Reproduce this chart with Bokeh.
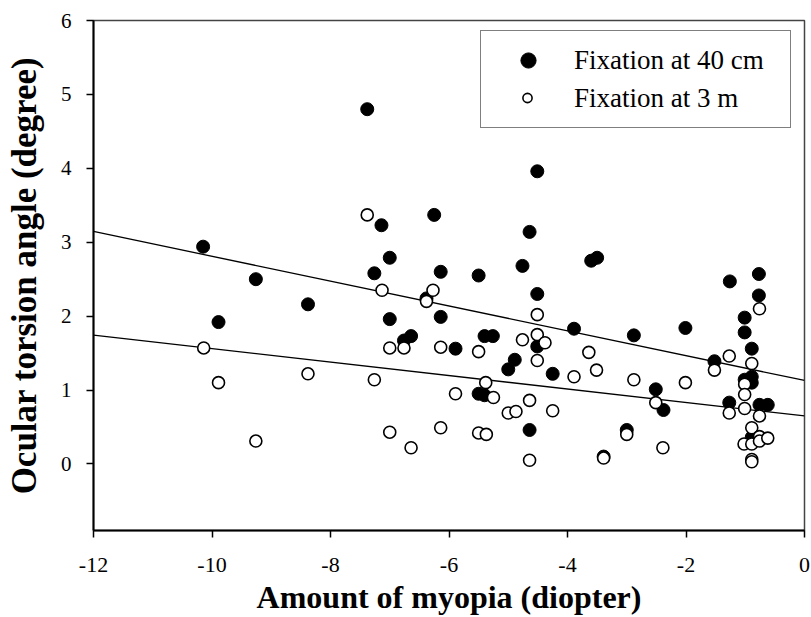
from bokeh.plotting import figure
from bokeh.models import FixedTicker, Legend, LegendItem, Range1d
from bokeh.embed import file_html
from bokeh.resources import INLINE

# Fixation at 40 cm (filled)
near_x = [-10.15, -9.89, -9.26, -8.38, -7.38, -7.14, -7.26, -7.00, -7.00, -6.64,
          -6.76, -6.38, -6.25, -6.14, -6.14, -5.89, -5.50, -5.50, -5.40, -5.40,
          -5.26, -5.00, -4.89, -4.76, -4.64, -4.64, -4.51, -4.51, -4.51, -4.25,
          -3.89, -3.60, -3.50, -3.39, -3.00, -2.88, -2.51, -2.38, -2.01, -1.52,
          -1.26, -1.27, -1.01, -1.01, -1.01, -0.89, -0.89, -0.89, -0.89, -0.77,
          -0.77, -0.76, -0.62]
near_y = [2.94, 1.92, 2.50, 2.16, 4.80, 3.23, 2.58, 2.79, 1.96, 1.73,
          1.67, 2.24, 3.37, 2.60, 1.99, 1.56, 2.55, 0.95, 0.93, 1.73,
          1.73, 1.28, 1.41, 2.68, 3.14, 0.46, 3.96, 2.30, 1.59, 1.22,
          1.83, 2.75, 2.79, 0.10, 0.46, 1.74, 1.01, 0.73, 1.84, 1.39,
          2.47, 0.83, 1.98, 1.78, 1.14, 1.56, 1.18, 1.10, 0.36, 2.57,
          2.28, 0.80, 0.80]

# Fixation at 3 m (open)
far_x = [-10.14, -9.89, -9.26, -8.38, -7.38, -7.13, -7.26, -7.00, -7.00, -6.76,
         -6.64, -6.38, -6.27, -6.14, -6.14, -5.89, -5.50, -5.38, -5.25, -5.50,
         -5.37, -5.00, -4.87, -4.64, -4.64, -4.76, -4.51, -4.51, -4.38, -4.51,
         -4.25, -3.89, -3.64, -3.51, -3.39, -3.00, -2.88, -2.51, -2.39, -2.01,
         -1.52, -1.27, -1.27, -0.89, -1.01, -1.01, -1.01, -0.76, -0.89, -1.02,
         -0.89, -0.76, -0.76, -0.62, -0.89, -0.89, -0.76]
far_y = [1.57, 1.10, 0.31, 1.22, 3.37, 2.35, 1.14, 1.57, 0.43, 1.57,
         0.22, 2.20, 2.35, 1.58, 0.49, 0.95, 1.52, 1.10, 0.90, 0.42,
         0.40, 0.69, 0.71, 0.86, 0.05, 1.68, 2.02, 1.75, 1.64, 1.40,
         0.72, 1.18, 1.51, 1.27, 0.08, 0.40, 1.14, 0.83, 0.22, 1.10,
         1.27, 1.46, 0.69, 1.36, 1.08, 0.94, 0.75, 0.65, 0.49, 0.27,
         0.27, 0.37, 0.31, 0.35, 0.06, 0.03, 2.10]

# regression lines: (intercept, slope)
near_fit = (1.13, -0.168)
far_fit = (0.65, -0.091)

x_ticks = [-12, -10, -8, -6, -4, -2, 0]
y_ticks = [0, 1, 2, 3, 4, 5, 6]
x_limits = (-12, 0)
y_limits = (-0.9, 6)

FONT = "Liberation Serif"
TICK_FONT = "Times New Roman"

p = figure(width=811, height=617, output_backend="svg", toolbar_location=None,
           x_range=Range1d(*x_limits), y_range=Range1d(*y_limits),
           min_border_left=93, min_border_right=7, min_border_top=20,
           min_border_bottom=85)
p.xgrid.visible = False
p.ygrid.visible = False
p.outline_line_color = "#444444"
p.outline_line_width = 1.5

line_x = list(x_limits)
p.line(line_x, [near_fit[0] + near_fit[1] * v for v in line_x],
       line_color="black", line_width=1.3)
p.line(line_x, [far_fit[0] + far_fit[1] * v for v in line_x],
       line_color="black", line_width=1.3)

r_near = p.scatter(near_x, near_y, marker="circle", size=13,
                   fill_color="black", line_color="black", line_width=1)
r_far = p.scatter(far_x, far_y, marker="circle", size=12,
                  fill_color="white", line_color="black", line_width=1.6)
# empty placeholder so the second legend row shows only its label
r_blank = p.scatter([], [], marker="circle", size=1, fill_alpha=0, line_alpha=0)

for ax, ticks in ((p.xaxis[0], x_ticks), (p.yaxis[0], y_ticks)):
    ax.ticker = FixedTicker(ticks=ticks)
    ax.major_label_overrides = {t: str(t) for t in ticks}
    ax.minor_tick_line_color = None
    ax.major_tick_in = 0
    ax.major_tick_out = 7
    ax.major_tick_line_width = 1.5
    ax.axis_line_width = 2
    ax.axis_line_color = "black"
    ax.major_label_text_font = TICK_FONT
    ax.major_label_text_color = "black"
    ax.axis_label_text_font = FONT
    ax.axis_label_text_font_style = "bold"
    ax.axis_label_text_color = "black"

p.xaxis.axis_label = "Amount of myopia (diopter)"
p.yaxis.axis_label = "Ocular torsion angle (degree)"
p.xaxis.major_label_text_font_size = "22px"
p.yaxis.major_label_text_font_size = "21px"
p.xaxis.axis_label_text_font_size = "32px"
p.yaxis.axis_label_text_font_size = "35px"
p.xaxis.major_label_standoff = 20
p.yaxis.major_label_standoff = 15
p.xaxis.axis_label_standoff = 4
p.yaxis.axis_label_standoff = 14

legend = Legend(items=[LegendItem(label="Fixation at 40 cm", renderers=[r_near]),
                       LegendItem(label="Fixation at 3 m", renderers=[r_blank])],
                location=(387, 402))
legend.label_text_font = FONT
legend.label_text_font_size = "27px"
legend.label_text_color = "black"
legend.border_line_color = "black"
legend.border_line_width = 1
legend.background_fill_color = "white"
legend.background_fill_alpha = 1
legend.padding = 10
legend.spacing = 0
legend.glyph_height = 38
legend.glyph_width = 74
legend.label_height = 38
legend.label_standoff = 9
legend.label_width = 206
legend.margin = 0
p.add_layout(legend)

# smaller open-circle key drawn over the second legend row
legend2 = Legend(items=[LegendItem(label=" ", renderers=[r_far])],
                 location=(397, 421))
legend2.border_line_color = None
legend2.background_fill_alpha = 0
legend2.padding = 0
legend2.spacing = 0
legend2.glyph_height = 23
legend2.glyph_width = 74
legend2.label_height = 23
legend2.label_standoff = 0
legend2.label_width = 0
legend2.label_text_font_size = "10px"
legend2.margin = 0
p.add_layout(legend2)

open("out.html", "w").write(file_html(p, INLINE))
